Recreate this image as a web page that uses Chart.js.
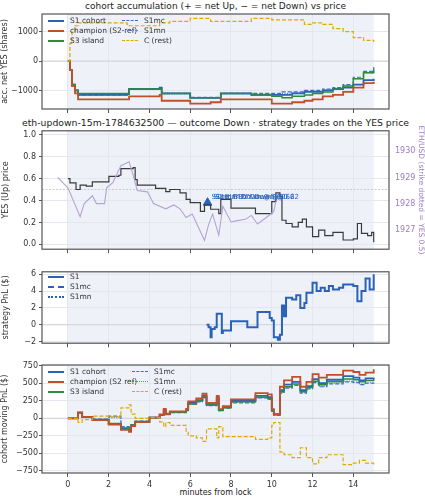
<!DOCTYPE html>
<html><head><meta charset="utf-8">
<script src="https://cdn.jsdelivr.net/npm/chart.js@4"></script>
<style>
body{margin:0;width:425px;height:500px;background:#fff;position:relative;font-family:"DejaVu Sans",sans-serif;overflow:hidden}
canvas{position:absolute;left:0}
.t{position:absolute;left:0;width:431px;text-align:center;font-size:9px;color:#222;white-space:nowrap}
.lg{position:absolute;font-size:7.5px;color:#333;line-height:10px}
.lg div{white-space:nowrap}
.lg span{display:inline-block;width:16px;height:0;vertical-align:middle;margin-right:6px}
</style></head><body>
<div class="t" style="top:1px">cohort accumulation (+ = net Up, − = net Down) vs price</div>
<div class="t" style="top:117px;font-size:9.3px">eth-updown-15m-1784632500 — outcome Down · strategy trades on the YES price</div>
<div class="t" style="top:488px;font-size:8px">minutes from lock</div>
<canvas id="c1"></canvas><canvas id="c2"></canvas><canvas id="c3"></canvas><canvas id="c4"></canvas>
<div class="lg" style="left:48px;top:16px">
<div><span style="border-top:2px solid #2a62b8"></span>S1 cohort</div>
<div><span style="border-top:2px solid #c0502a"></span>champion (S2 ref)</div>
<div><span style="border-top:2px solid #2e8b3e"></span>S3 island</div></div>
<div class="lg" style="left:122px;top:16px">
<div><span style="border-top:1.5px dashed #3a70c8"></span>S1mc</div>
<div><span style="border-top:1.5px dotted #5a88d0"></span>S1mn</div>
<div><span style="border-top:1.5px dashed #e0a800"></span>C (rest)</div></div>
<div class="lg" style="left:48px;top:272px">
<div><span style="border-top:2px solid #2a62b8"></span>S1</div>
<div><span style="border-top:2px dashed #2a62b8"></span>S1mc</div>
<div><span style="border-top:2px dotted #2a62b8"></span>S1mn</div></div>
<div class="lg" style="left:48px;top:367px">
<div><span style="border-top:2px solid #2a62b8"></span>S1 cohort</div>
<div><span style="border-top:2px solid #c0502a"></span>champion (S2 ref)</div>
<div><span style="border-top:2px solid #2e8b3e"></span>S3 island</div></div>
<div class="lg" style="left:132px;top:367px">
<div><span style="border-top:1.5px dashed #3a70c8"></span>S1mc</div>
<div><span style="border-top:1.5px dotted #5a88d0"></span>S1mn</div>
<div><span style="border-top:1.5px dashed #e0a800"></span>C (rest)</div></div>
<script>
// ---- tick labels
const xTicks=[0,2,4,6,8,10,12,14];
const accTicks=[-1000,0,1000];
const priceTicks=[0,0.2,0.4,0.6,0.8,1.0];
const ethTicks=[1927,1928,1929,1930];
const pnlTicks=[-2,0,2,4,6];
const mvTicks=[-750,-500,-250,0,250,500,750];
// ---- panel 1: accumulated net YES
const T1=[0,0.1,0.2,0.35,0.5,1.0,2.0,2.9,3.0,4.5,4.6,5.0,6.0,7.0,7.5,9.0,10.0,10.5,11.0,11.6,12.0,12.5,13.0,13.5,14.0,14.5,15.0];
const accS1=[0,-300,-800,-1000,-1150,-1150,-1150,-1120,-950,-900,-1100,-1100,-1250,-1250,-1100,-1150,-1150,-1150,-1100,-1050,-1050,-1000,-950,-900,-800,-650,-600];
const accChamp=[0,-300,-850,-1100,-1300,-1300,-1300,-1300,-1200,-1150,-1350,-1350,-1450,-1400,-1300,-1300,-1450,-1450,-1400,-1350,-1300,-1200,-1150,-1050,-900,-750,-700];
const accS3=[0,-300,-800,-1000,-1100,-1100,-1100,-1100,-950,-950,-1100,-1100,-1250,-1250,-1100,-1150,-1200,-1250,-1200,-1150,-1100,-1050,-950,-850,-600,-400,-300];
const accS1mc=[0,-300,-800,-1000,-1150,-1150,-1150,-1100,-950,-900,-1100,-1100,-1230,-1230,-1100,-1100,-1100,-1050,-1050,-1000,-1000,-950,-900,-800,-550,-350,-200];
const accS1mn=[0,-300,-800,-1000,-1150,-1150,-1150,-1110,-960,-920,-1120,-1120,-1240,-1240,-1120,-1120,-1150,-1100,-1080,-1030,-1020,-980,-920,-850,-600,-400,-250];
const accC=[0,600,1000,1200,1300,1300,1300,1250,1200,1300,1300,1350,1450,1350,1350,1450,1400,1400,1400,1250,1300,1250,1100,1000,800,700,650];
// ---- panel 2: YES price and ETH
const T2=[0,0.1,0.4,0.6,0.9,1.2,2.0,2.01,2.5,2.6,3.2,3.3,3.4,4.2,4.3,4.8,5.0,5.5,5.8,6.0,6.5,6.7,7.0,7.4,7.5,8.0,9.0,9.2,10.0,10.2,10.4,10.5,10.7,11.0,11.3,11.5,11.7,12.0,12.3,12.6,13.0,13.5,14.0,14.2,14.4,14.7,14.9,15.0];
const yesPrice=[0.6,0.56,0.5,0.54,0.53,0.57,0.57,0.62,0.63,0.69,0.7,0.59,0.54,0.54,0.51,0.48,0.5,0.47,0.41,0.38,0.3,0.36,0.32,0.28,0.41,0.33,0.33,0.28,0.39,0.47,0.44,0.22,0.19,0.16,0.2,0.23,0.16,0.07,0.13,0.08,0.11,0.04,0.05,0.19,0.1,0.08,0.11,0.02];
const TE=[-0.5,0,0.6,0.8,1.2,1.4,1.8,1.9,2.2,2.6,3.0,3.2,3.4,3.9,4.2,4.8,5.2,5.5,5.8,6.1,6.4,6.7,6.9,7.1,7.4,7.6,8.0,8.3,8.7,9.0,9.3,9.7,10.1,10.2];
const ethUsd=[1929.0,1928.6,1927.5,1928.0,1928.3,1928.0,1928.0,1928.6,1928.8,1929.45,1929.6,1929.1,1928.5,1928.45,1928.0,1927.8,1927.95,1927.8,1927.47,1927.6,1927.1,1926.6,1927.2,1927.6,1926.8,1927.9,1927.3,1927.35,1927.4,1927.55,1927.22,1927.45,1927.7,1928.09];
const strikeYes=0.5;
const tradeT=[6.85], tradeP=[0.38];
const tradeLabels=["S1mc BUY Down @0.62","S1 BUY Down @0.62","S1mn BUY Down @0.62"];
// ---- panel 3: strategy PnL
const T3=[6.8,6.9,7.0,7.05,7.2,7.3,7.5,7.55,7.6,8.0,8.7,8.8,9.2,9.3,9.8,9.9,10.0,10.1,10.3,10.4,10.5,10.6,10.7,11.0,11.2,11.4,11.6,11.7,12.0,12.2,12.4,12.6,12.8,13.0,13.3,13.5,13.7,14.0,14.2,14.4,14.6,14.8,15.0];
const pnlS1=[0,-0.3,-1.5,-0.5,-0.3,1.3,1.3,-1.0,-0.7,0.4,0.4,-0.3,-0.3,1.5,1.5,0.8,0.5,-1.5,-1.8,-1.2,2.3,1.0,3.2,3.0,3.5,2.0,2.6,3.8,5.0,4.0,4.4,4.0,4.6,4.2,4.4,4.8,4.8,4.6,2.8,4.0,5.5,4.2,6.0];
// ---- panel 4: cohort moving PnL
const T4=[0,0.5,0.7,1.2,2.0,2.6,3.0,3.1,3.3,4.0,4.5,4.7,4.8,5.0,5.8,5.9,6.3,6.6,6.8,7.3,7.4,7.6,8.0,9.2,9.8,10.0,10.1,10.4,10.6,11.0,11.4,11.7,12.0,12.3,12.7,13.5,14.0,14.3,14.6,15.0];
const mvS1=[0,80,20,-20,-80,-150,-180,-100,-50,10,50,120,60,90,120,220,260,320,200,290,120,160,250,320,300,120,60,400,480,520,400,460,560,500,550,600,580,540,570,580];
const mvChamp=[0,85,20,-25,-90,-165,-195,-110,-55,10,55,135,65,100,135,240,285,350,220,320,130,175,270,360,340,130,60,450,540,590,450,520,630,580,620,680,660,620,650,700];
const mvS3=[0,75,20,-20,-75,-140,-170,-95,-45,10,45,115,55,85,115,205,245,300,190,275,110,150,235,300,280,110,50,380,450,490,380,440,530,480,520,560,550,520,540,560];
const mvS1mc=[0,80,20,-10,30,-120,-160,-90,-40,10,45,110,55,80,110,200,235,290,180,260,110,145,220,290,270,100,40,360,430,470,360,420,510,450,490,520,510,480,500,510];
const mvS1mn=[0,80,20,-15,10,-130,-165,-95,-45,10,45,112,55,82,112,205,240,295,185,265,112,148,225,295,275,105,45,370,440,480,370,430,520,460,500,530,520,490,510,520];
const mvC=[0,-60,-20,30,20,150,190,60,0,10,-50,-120,-60,-100,-200,-250,-280,-330,-150,-280,-120,-260,-260,-300,-280,-100,-60,-480,-520,-560,-420,-560,-650,-560,-520,-660,-640,-600,-640,-680];

Chart.defaults.font.family='"DejaVu Sans",sans-serif';
Chart.defaults.font.size=8;
Chart.defaults.color='#333';
Chart.defaults.animation=false;
const pts=(t,v)=>t.map((x,i)=>({x,y:v[i]}));
const ln=(label,t,v,color,w,dash)=>({label,data:pts(t,v),borderColor:color,borderWidth:w,borderDash:dash||[],stepped:true,pointRadius:0,fill:false});
const fix=(arr)=>function(s){s.ticks=arr.map(v=>({value:v}));};
const minus=v=>v<0?'−'+Math.abs(v):String(v);
const bgPlug={id:'bg',beforeDraw(c){const a=c.chartArea,x=c.scales.x,g=c.ctx;g.save();g.fillStyle='#fff';g.fillRect(a.left,a.top,a.width,a.height);
 const l=x.getPixelForValue(0),r=x.getPixelForValue(15);g.fillStyle='#eef1f8';g.fillRect(l,a.top,r-l,a.height);g.restore();},
 afterDraw(c){const a=c.chartArea,g=c.ctx;g.save();g.strokeStyle='#555';g.lineWidth=1.2;g.strokeRect(a.left,a.top,a.width,a.height);g.restore();}};
function make(id,plotTop,plotH,bottomH,datasets,yopt,extra){
 const cv=document.getElementById(id);const pad=6;
 cv.width=425;cv.height=plotH+pad+bottomH;
 cv.style.top=(plotTop-pad)+'px';cv.style.width='425px';cv.style.height=(plotH+pad+bottomH)+'px';
 const scales={x:{type:'linear',min:-1.27,max:15.75,afterFit(s){s.height=bottomH;},afterBuildTicks:fix(xTicks),
   ticks:{display:bottomH>10},
   grid:{color:'#e4e7ee',drawTicks:true,tickLength:4,tickColor:'#555'},border:{display:false}},
  y:Object.assign({afterFit(s){s.width=42;},grid:{color:'#e4e7ee',tickLength:3,tickColor:'#555'},border:{display:false}},yopt)};
 if(extra&&extra.y2)scales.y2=extra.y2;
 return new Chart(cv,{type:'line',data:{datasets},options:{responsive:false,maintainAspectRatio:false,devicePixelRatio:1,
  layout:{padding:{top:pad,right:(extra&&extra.y2)?0:36,left:0,bottom:0}},
  plugins:{legend:{display:false},tooltip:{enabled:false}},scales},plugins:[bgPlug].concat((extra&&extra.plugins)||[])});
}
const zeroLine=(val)=>({id:'z'+val,beforeDatasetsDraw(c){const y=c.scales.y.getPixelForValue(val),a=c.chartArea,g=c.ctx;g.save();g.strokeStyle='#d0d3da';g.lineWidth=1;g.beginPath();g.moveTo(a.left,y);g.lineTo(a.right,y);g.stroke();g.restore();}});
make('c1',14,95,6,[
 ln('C (rest)',T1,accC,'#e0a800',1.2,[4,2]),
 ln('champion (S2 ref)',T1,accChamp,'#c0502a',1.8),
 ln('S3 island',T1,accS3,'#2e8b3e',1.5),
 ln('S1 cohort',T1,accS1,'#2a62b8',1.8),
 ln('S1mc',T1,accS1mc,'#3a70c8',1.2,[4,2]),
 ln('S1mn',T1,accS1mn,'#5a88d0',1.2,[1,1.5])
],{min:-1630,max:1600,afterBuildTicks:fix(accTicks),ticks:{callback:minus,padding:1},title:{display:true,text:'acc. net YES (shares)',padding:0}},{plugins:[zeroLine(0)]});

const tradeLbl={id:'tl',afterDatasetsDraw(c){const g=c.ctx;g.save();g.fillStyle='#2a62b8';g.font='7px "DejaVu Sans"';
 const x=c.scales.x.getPixelForValue(tradeT[0])+4,y=c.scales.y.getPixelForValue(tradeP[0])-4;
 tradeLabels.forEach((s,i)=>g.fillText(s,x+i*2,y));g.restore();}};
const strike={id:'st',beforeDatasetsDraw(c){const y=c.scales.y.getPixelForValue(strikeYes),a=c.chartArea,g=c.ctx;g.save();g.strokeStyle='#c8cad0';g.setLineDash([2,1.5]);g.beginPath();g.moveTo(a.left,y);g.lineTo(a.right,y);g.stroke();g.restore();}};
make('c2',129,122,6,[
 Object.assign(ln('ETH',TE,ethUsd,'#b3a3d6',1.1),{yAxisID:'y2',stepped:false}),
 ln('YES',T2,yesPrice,'#3a3a3a',1.2),
 {type:'scatter',data:pts(tradeT,tradeP),pointStyle:'triangle',pointRadius:5,backgroundColor:'#2a62b8',borderColor:'#2a62b8',showLine:false}
],{min:-0.044,max:1.035,afterBuildTicks:fix(priceTicks),ticks:{callback:v=>v.toFixed(1)},title:{display:true,text:'YES (Up) price',padding:1}},
 {y2:{position:'right',min:1926.26,max:1930.78,afterFit(s){s.width=36;},afterBuildTicks:fix(ethTicks),ticks:{color:'#9a7cc0',callback:v=>String(v)},
   grid:{display:false,tickLength:3,tickColor:'#9a7cc0'},border:{display:false},title:{display:true,text:'ETH/USD (strike dotted = YES 0.5)',color:'#9a7cc0',padding:0,font:{size:7.5}}},
  plugins:[strike,tradeLbl]});

make('c3',270,75,6,[ln('S1',T3,pnlS1,'#2a62b8',2)],
 {min:-2.2,max:6.3,afterBuildTicks:fix(pnlTicks),ticks:{callback:minus},title:{display:true,text:'strategy PnL ($)',padding:1}},{plugins:[zeroLine(0)]});

make('c4',365,108,16,[
 ln('C (rest)',T4,mvC,'#e0a800',1.2,[4,2]),
 ln('champion (S2 ref)',T4,mvChamp,'#c0502a',1.8),
 ln('S3 island',T4,mvS3,'#2e8b3e',1.5),
 ln('S1 cohort',T4,mvS1,'#2a62b8',1.8),
 ln('S1mc',T4,mvS1mc,'#3a70c8',1.2,[4,2]),
 ln('S1mn',T4,mvS1mn,'#5a88d0',1.2,[1,1.5])
],{min:-780,max:760,afterBuildTicks:fix(mvTicks),ticks:{callback:minus,padding:1},title:{display:true,text:'cohort moving PnL ($)',padding:0}},{plugins:[zeroLine(0)]});
</script></body></html>
